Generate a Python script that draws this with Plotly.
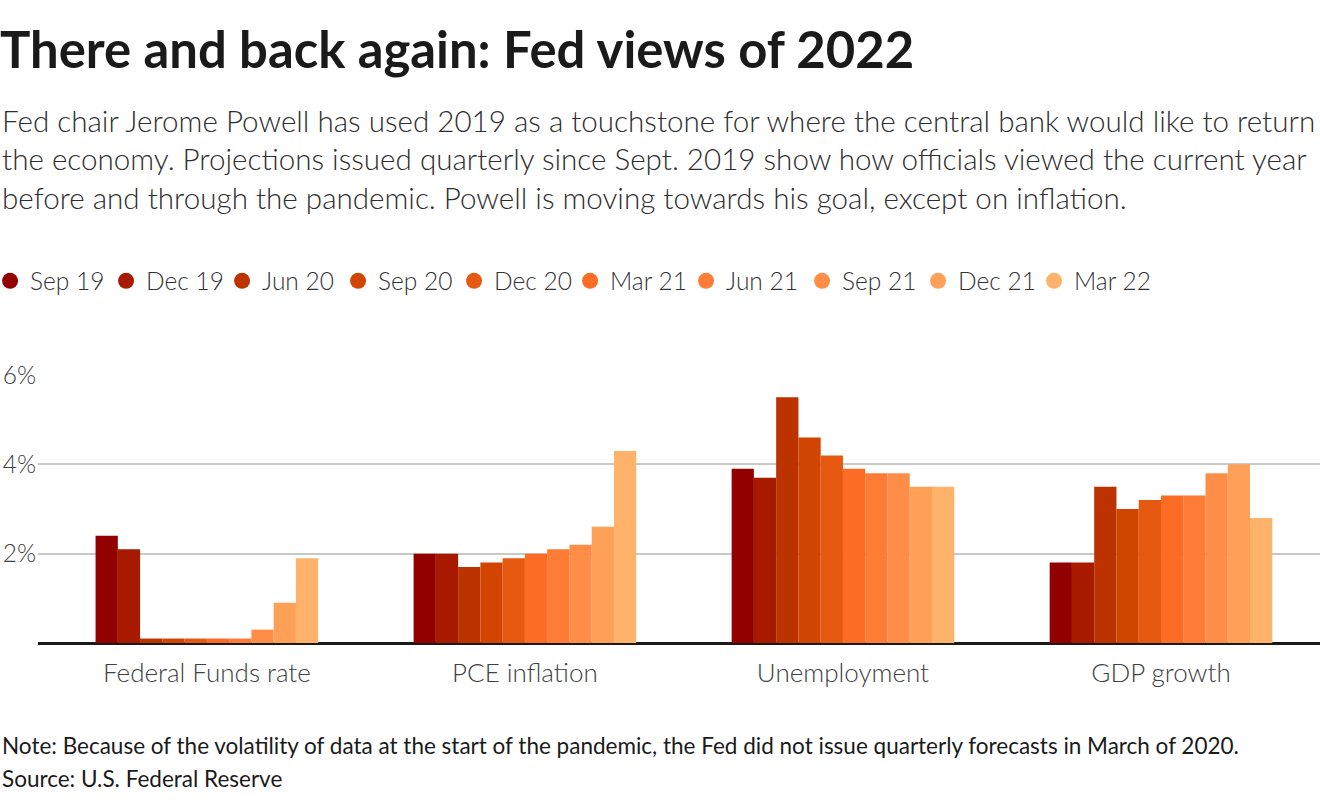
import plotly.graph_objects as go

# Fed projections for 2022, by release
categories = ["Federal Funds rate", "PCE inflation", "Unemployment", "GDP growth"]
releases = ["Sep 19", "Dec 19", "Jun 20", "Sep 20", "Dec 20",
            "Mar 21", "Jun 21", "Sep 21", "Dec 21", "Mar 22"]

sep19 = [2.4, 2.0, 3.9, 1.8]
dec19 = [2.1, 2.0, 3.7, 1.8]
jun20 = [0.1, 1.7, 5.5, 3.5]
sep20 = [0.1, 1.8, 4.6, 3.0]
dec20 = [0.1, 1.9, 4.2, 3.2]
mar21 = [0.1, 2.0, 3.9, 3.3]
jun21 = [0.1, 2.1, 3.8, 3.3]
sep21 = [0.3, 2.2, 3.8, 3.8]
dec21 = [0.9, 2.6, 3.5, 4.0]
mar22 = [1.9, 4.3, 3.5, 2.8]

series = [sep19, dec19, jun20, sep20, dec20, mar21, jun21, sep21, dec21, mar22]
colors = ["#930000", "#a71a00", "#bd3300", "#d14500", "#e65910",
          "#fc6c24", "#fe7c36", "#fe8d48", "#fea058", "#feb26a"]

FONT = "Source Sans Pro, Lato, sans-serif"

fig = go.Figure()
for name, vals, col in zip(releases, series, colors):
    fig.add_trace(go.Bar(x=categories, y=vals, name=name, marker_color=col,
                         marker_line_width=0, showlegend=False, legendgroup=name))
    # round legend markers
    fig.add_trace(go.Scatter(x=[None], y=[None], mode="markers", name=name,
                             marker=dict(color=col, size=16, symbol="circle"),
                             legendgroup=name))

fig.update_layout(
    width=1320, height=800,
    margin=dict(l=38, r=0, t=375, b=157, autoexpand=False),
    paper_bgcolor="white", plot_bgcolor="white",
    font=dict(family=FONT, color="#333333"),
    barmode="group", bargap=0.3, bargroupgap=0,
    title=dict(text="<b>There and back again: Fed views of 2022</b>",
               x=0, xref="container", xanchor="left", y=0.937, yanchor="middle",
               font=dict(size=50.8, color="#1a1a1a", family=FONT)),
    legend=dict(orientation="h", x=-0.0374, xanchor="left", y=1.351, yanchor="middle",
                font=dict(size=24.5, color="#333333", weight=300), entrywidth=71,
                itemwidth=30, traceorder="normal"),
    showlegend=True,
)

fig.add_annotation(
    text=("Fed chair Jerome Powell has used 2019 as a touchstone for where the central bank would like to return<br>"
          "the economy. Projections issued quarterly since Sept. 2019 show how officials viewed the current year<br>"
          "before and through the pandemic. Powell is moving towards his goal, except on inflation."),
    xref="paper", yref="paper", x=-0.0296, y=2.024, xanchor="left", yanchor="top",
    align="left", showarrow=False,
    font=dict(size=29.6, color="#2e2e2e", family=FONT, weight=300))

fig.add_annotation(
    text="Note: Because of the volatility of data at the start of the pandemic, the Fed did not issue quarterly forecasts in March of 2020.",
    xref="paper", yref="paper", x=-0.0296, y=-0.384, xanchor="left", yanchor="middle",
    align="left", showarrow=False,
    font=dict(size=22.5, color="#1a1a1a", family=FONT))
fig.add_annotation(
    text="Source: U.S. Federal Reserve",
    xref="paper", yref="paper", x=-0.0296, y=-0.507, xanchor="left", yanchor="middle",
    align="left", showarrow=False,
    font=dict(size=22.5, color="#1a1a1a", family=FONT))

fig.update_xaxes(range=[-0.531, 3.5], showgrid=False, ticks="",
                 showline=False, fixedrange=True, ticklabelstandoff=12,
                 automargin=False,
                 tickfont=dict(size=26, color="#404040", family=FONT, weight=300))
fig.update_yaxes(range=[0, 6], tickvals=[2, 4, 6], ticktext=["2%", "4%", "6%"],
                 showgrid=True, gridcolor="#c8c8c8", gridwidth=1.5,
                 zeroline=True, zerolinecolor="#1a1a1a", zerolinewidth=2.5,
                 ticks="", ticklabelstandoff=1, automargin=False, fixedrange=True,
                 tickfont=dict(size=24.5, color="#404040", family=FONT, weight=300))

# drop the default page margin so the figure sits at the window origin
fig.write_html("out.html", config={"displayModeBar": False},
               post_script="document.body.style.margin='0';")
